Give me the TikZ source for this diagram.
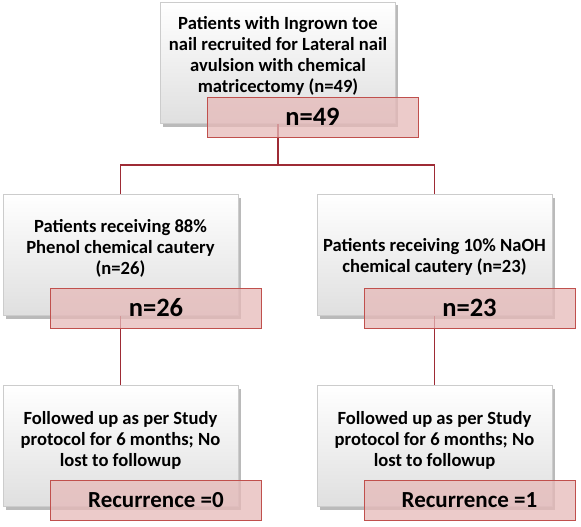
\documentclass[tikz,border=0pt]{standalone}
\usepackage{fontspec}
\setmainfont{Carlito}
\usetikzlibrary{shadows}
\definecolor{pinkfill}{HTML}{E6B9B8}
\definecolor{pinkedge}{HTML}{C0504D}
\definecolor{linkred}{HTML}{9E2B35}
\tikzset{
  graybox/.style={draw=gray!40, line width=0.5pt, top color=white, bottom color=gray!25,
    minimum width=235pt, minimum height=121pt, inner sep=0pt,
    drop shadow={shadow xshift=2.5pt, shadow yshift=-3pt, opacity=0.45, fill=gray!80!black}},
  graytext/.style={align=center, font=\fontsize{18.6}{21}\selectfont\bfseries, inner sep=0pt},
  pinkbox/.style={draw=pinkedge, line width=0.7pt, fill=pinkfill, fill opacity=0.75, text opacity=1,
    minimum width=211pt, minimum height=40pt, inner sep=0pt},
  bigtext/.style={font=\fontsize{26.5}{30}\selectfont\bfseries},
  rectext/.style={font=\fontsize{23}{27}\selectfont\bfseries},
  link/.style={draw=linkred, line width=1.3pt}
}
\begin{document}
\begin{tikzpicture}[x=1pt,y=-1pt]
\useasboundingbox (0,0) rectangle (581,527);
% gray boxes
\node[graybox] (g0) at (278,63) {};
\node[graybox] (g1) at (120.5,255) {};
\node[graybox] (g2) at (434.5,255) {};
\node[graybox] (g3) at (120.5,446) {};
\node[graybox] (g4) at (434.5,446) {};
% connectors
\coordinate (split) at (278,165);
\draw[link] (g0.south) -- (split);
\draw[link] (split) -| (g1.north);
\draw[link] (split) -| (g2.north);
\draw[link] (g1.south) -- (g3.north);
\draw[link] (g2.south) -- (g4.north);
% texts
\node[graytext] (t0) at (278,56) {Patients with Ingrown toe\\nail recruited for Lateral nail\\avulsion with chemical\\matricectomy (n=49)};
\node[graytext] (t1) at (120.5,248) {Patients receiving 88\%\\Phenol chemical cautery\\(n=26)};
\node[graytext] (t2) at (434.5,257) {Patients receiving 10\% NaOH\\chemical cautery (n=23)};
\node[graytext] (t3) at (120.5,440) {Followed up as per Study\\protocol for 6 months; No\\lost to followup};
\node[graytext] (t4) at (434.5,440) {Followed up as per Study\\protocol for 6 months; No\\lost to followup};
% pink boxes
\node[pinkbox, bigtext] (p0) at (312.5,117) {n=49};
\node[pinkbox, bigtext] (p1) at (156,308) {n=26};
\node[pinkbox, bigtext] (p2) at (469.5,308) {n=23};
\node[pinkbox, rectext] (p3) at (156,500) {Recurrence =0};
\node[pinkbox, rectext] (p4) at (469.5,500) {Recurrence =1};
\end{tikzpicture}
\end{document}
